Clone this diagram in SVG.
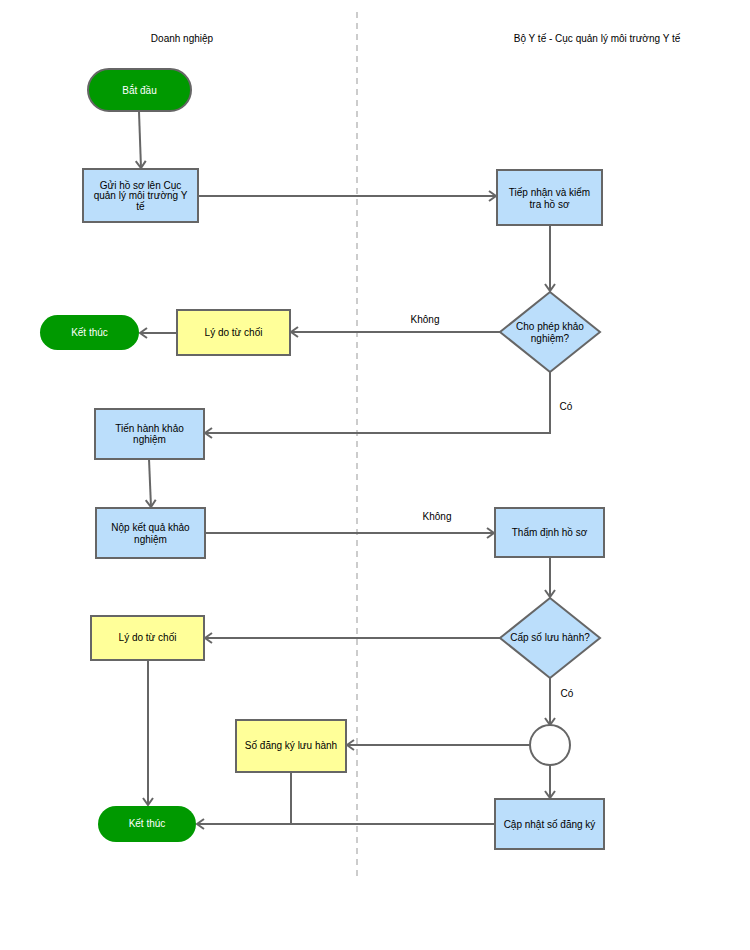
<svg xmlns="http://www.w3.org/2000/svg" width="750" height="950" viewBox="0 0 750 950">
<defs>
<marker id="arr" markerUnits="userSpaceOnUse" markerWidth="14" markerHeight="14" refX="9" refY="6" orient="auto">
<path d="M2,1 L9,6 L2,11" fill="none" stroke="#666" stroke-width="2"/>
</marker>
<style>
text{font-family:"Liberation Sans",Arial,sans-serif;font-size:10px;fill:#000;text-anchor:middle}
.w{fill:#fff}
.proc{fill:#bbdefb;stroke:#666;stroke-width:2}
.note{fill:#ffff99;stroke:#666;stroke-width:2}
.term{fill:#009900;stroke:#666;stroke-width:2}
.term2{fill:#009900;stroke:none}
.dec{fill:#bbdefb;stroke:#666;stroke-width:2}
.c{fill:none;stroke:#666;stroke-width:2}
.a{marker-end:url(#arr)}
</style>
</defs>
<rect width="750" height="950" fill="#fff"/>
<line x1="357" y1="12" x2="357" y2="880" stroke="#ccc" stroke-width="2" stroke-dasharray="6,5"/>
<text x="182" y="42">Doanh nghiệp</text>
<text x="597" y="42">Bộ Y tế - Cục quản lý môi trường Y tế</text>

<g id="connectors">
<path class="c a" d="M139,112 L141,168"/>
<path class="c a" d="M198,196 L496,196"/>
<path class="c a" d="M550,225 L550,291"/>
<path class="c a" d="M500,332 L291,332"/>
<path class="c a" d="M177,333 L140,333"/>
<path class="c a" d="M550,372 L550,433 L205,433"/>
<path class="c a" d="M149,459 L151,507"/>
<path class="c a" d="M205,533 L494,533"/>
<path class="c a" d="M550,557 L550,597"/>
<path class="c a" d="M500,638 L205,638"/>
<path class="c a" d="M148,660 L148,805"/>
<path class="c a" d="M550,678 L550,725"/>
<path class="c a" d="M530,745 L347,745"/>
<path class="c a" d="M550,765 L550,798"/>
<path class="c a" d="M495,824 L197,824"/>
<path class="c" d="M291,772 L291,824"/>
<text x="425" y="323">Không</text>
<text x="566" y="410">Có</text>
<text x="437" y="520">Không</text>
<text x="567" y="697">Có</text>
</g>

<g id="start"><rect class="term" x="88" y="69" width="103" height="42" rx="21"/><text class="w" x="139.5" y="94">Bắt đầu</text></g>
<g id="gui"><rect class="proc" x="83" y="169" width="115" height="53"/><text x="140.5" y="189">Gửi hồ sơ lên Cục</text><text x="140.5" y="199">quản lý môi trường Y</text><text x="140.5" y="210">tế</text></g>
<g id="tiepnhan"><rect class="proc" x="497" y="170" width="105" height="55"/><text x="549.5" y="196">Tiếp nhận và kiểm</text><text x="549.5" y="208">tra hồ sơ</text></g>
<g id="chophep"><polygon class="dec" points="550,292 600,332 550,372 500,332"/><text x="550" y="330">Cho phép khảo</text><text x="550" y="342">nghiệm?</text></g>
<g id="lydo1"><rect class="note" x="177" y="310" width="113" height="45"/><text x="233.5" y="336">Lý do từ chối</text></g>
<g id="ketthuc1"><rect class="term2" x="40" y="315" width="99" height="35" rx="17.5"/><text class="w" x="89.5" y="336">Kết thúc</text></g>
<g id="tienhanh"><rect class="proc" x="95" y="409" width="109" height="50"/><text x="149.5" y="432">Tiến hành khảo</text><text x="149.5" y="443">nghiệm</text></g>
<g id="nopketqua"><rect class="proc" x="96" y="508" width="109" height="50"/><text x="150.5" y="531">Nộp kết quả khảo</text><text x="150.5" y="543">nghiệm</text></g>
<g id="thamdinh"><rect class="proc" x="495" y="508" width="109" height="49"/><text x="549.5" y="536">Thẩm định hồ sơ</text></g>
<g id="capso"><polygon class="dec" points="550,598 600,638 550,678 500,638"/><text x="550" y="641">Cấp số lưu hành?</text></g>
<g id="lydo2"><rect class="note" x="91" y="616" width="113" height="44"/><text x="147.5" y="641">Lý do từ chối</text></g>
<g id="merge"><circle cx="550" cy="745" r="20" fill="#fff" stroke="#666" stroke-width="2"/></g>
<g id="sodangky"><rect class="note" x="236" y="720" width="110" height="52"/><text x="291" y="749">Số đăng ký lưu hành</text></g>
<g id="capnhat"><rect class="proc" x="495" y="799" width="109" height="50"/><text x="549.5" y="828">Cập nhật số đăng ký</text></g>
<g id="ketthuc2"><rect class="term2" x="98" y="806" width="98" height="36" rx="18"/><text class="w" x="147" y="827">Kết thúc</text></g>
</svg>
